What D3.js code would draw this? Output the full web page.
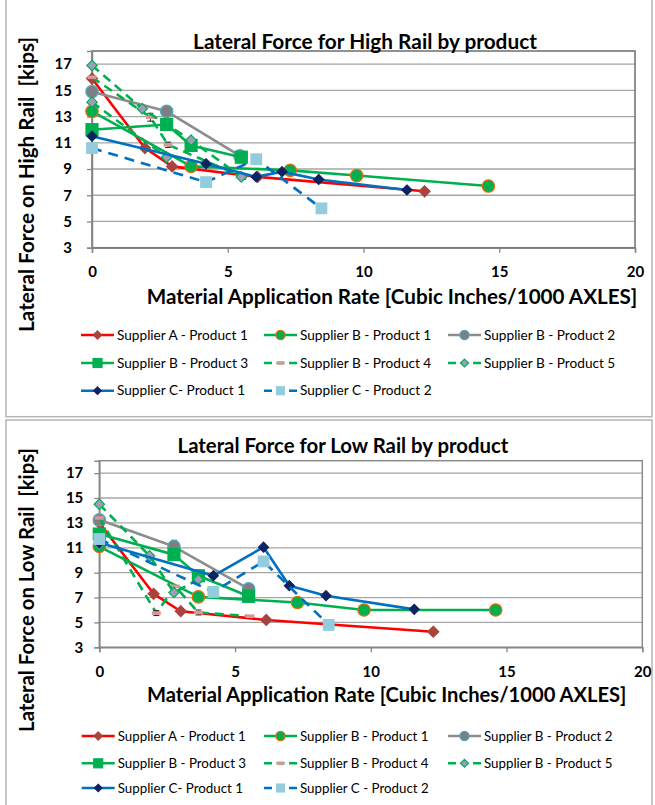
<!DOCTYPE html>
<html>
<head>
<meta charset="utf-8">
<script src="https://cdn.jsdelivr.net/npm/d3@7"></script>
<style>
  body { margin: 0; background: #fff; }
  svg { display: block; font-family: Lato, "Open Sans", sans-serif; }
</style>
</head>
<body>
<svg id="chart" width="655" height="805"></svg>
<script>
// ---- data ----
const seriesNames = [
  "Supplier A - Product 1", "Supplier B - Product 1", "Supplier B - Product 2",
  "Supplier B - Product 3", "Supplier B - Product 4", "Supplier B - Product 5",
  "Supplier C- Product 1", "Supplier C - Product 2"
];
const xTicks = [0, 5, 10, 15, 20];
const yTicks = [3, 5, 7, 9, 11, 13, 15, 17];

// high rail: [rate, force, error]; null breaks a line
const highA1 = [[0, 15.9], [1.95, 10.6], [2.95, 9.2], [6.1, 8.4], [12.25, 7.3]];
const highB1 = [[0, 13.4], [3.65, 9.2], [7.3, 8.9], [9.75, 8.5], [14.6, 7.7]];
const highB2 = [[0, 14.9], [2.75, 13.4], [5.45, 10.0]];
const highB3 = [[0, 12.0], [2.75, 12.4], [3.65, 10.8], [5.5, 9.9]];
const highB4 = [[0, 16.0], [2.15, 12.95, 0.3], [2.8, 10.85, 0.2], [5.55, 8.4, 0.2]];
const highB5 = [[0, 16.9], [1.85, 13.6], [3.65, 11.2], [5.5, 8.4], null, [0, 14.1], [2.75, 9.9]];
const highC1 = [[0, 11.5], [4.2, 9.4], [6.05, 8.4], [7.0, 8.8], [8.35, 8.2], [11.6, 7.4]];
const highC2 = [[0, 10.6], [4.2, 8.0], [6.05, 9.75], [8.45, 6.0]];

// low rail
const lowA1 = [[0, 13.0], [2.0, 7.3], [3.0, 5.9], [6.15, 5.2], [12.3, 4.25]];
const lowB1 = [[0, 11.1], [3.65, 7.05], [7.3, 6.6], [9.75, 6.0], [14.6, 6.0]];
const lowB2 = [[0, 13.25], [2.75, 11.1, 0.5], [5.5, 7.7]];
const lowB3 = [[0, 12.1], [2.75, 10.45], [3.65, 8.75], [5.5, 7.1]];
const lowB4 = [[0, 13.4], [2.1, 5.75, 0.2], [2.8, 7.9], [3.65, 5.8, 0.2], [5.55, 5.5]];
const lowB5 = [[0, 14.5], [1.85, 10.35], [2.75, 7.4], [3.65, 8.45], null, [0, 11.2]];
const lowC1 = [[0, 11.4], [4.2, 8.75], [6.05, 11.05], [7.0, 7.95], [8.35, 7.15], [11.6, 6.05]];
const lowC2 = [[0, 11.7], [4.2, 7.45], [6.05, 9.9], [8.45, 4.8]];

// ---- styles ----
const styles = [
  { line: "#ff0000", dash: null, shape: "diamond", fill: "#a9433d", stroke: "#a9433d", r: 5.5 },
  { line: "#00b050", dash: null, shape: "circle", fill: "#00b050", stroke: "#e46c0a", r: 6.2 },
  { line: "#8c8c8c", dash: null, shape: "circle", fill: "#7f7f7f", stroke: "#4bacc6", r: 6.2 },
  { line: "#00b050", dash: null, shape: "square", fill: "#00b050", stroke: "#00b050", r: 6 },
  { line: "#00b050", dash: "9,6", shape: "bar", fill: "#d99694", stroke: "#d99694", r: 4.5 },
  { line: "#00b050", dash: "9,6", shape: "diamond", fill: "#a19bbf", stroke: "#00b050", r: 5.2 },
  { line: "#0070c0", dash: null, shape: "diamond", fill: "#0c2461", stroke: "#0c2461", r: 5 },
  { line: "#0070c0", dash: "10,7", shape: "square", fill: "#93cddd", stroke: "#93cddd", r: 5.3 }
];

const svg = d3.select("#chart");

function fit(sel, target) {
  const w = sel.node().getComputedTextLength();
  sel.attr("font-size", parseFloat(sel.attr("font-size")) * target / w);
}

function marker(g, st, cx, cy, k) {
  const r = st.r * (k || 1);
  if (st.shape === "bar") {
    g.append("rect").attr("x", cx - r).attr("y", cy - 1.8).attr("width", 2 * r).attr("height", 3.6)
      .attr("fill", st.fill);
    return;
  }
  let el;
  if (st.shape === "circle") {
    el = g.append("circle").attr("cx", cx).attr("cy", cy).attr("r", r);
  } else if (st.shape === "square") {
    el = g.append("rect").attr("x", cx - r).attr("y", cy - r).attr("width", 2 * r).attr("height", 2 * r);
  } else {
    el = g.append("path").attr("d", `M${cx},${cy - r}L${cx + r},${cy}L${cx},${cy + r}L${cx - r},${cy}Z`);
  }
  el.attr("fill", st.fill).attr("stroke", st.stroke).attr("stroke-width", 1.2);
}

function drawChart(cfg) {
  const g = svg.append("g");
  const x = d3.scaleLinear().domain([0, 20]).range([cfg.x0, cfg.x1]);
  const y = d3.scaleLinear().domain([3, 18]).range([cfg.yb, cfg.yt]);

  // chart area frame
  g.append("rect").attr("x", cfg.frame[0]).attr("y", cfg.frame[1])
    .attr("width", cfg.frame[2]).attr("height", cfg.frame[3])
    .attr("fill", "none").attr("stroke", "#b4b4b4").attr("stroke-width", 1.5);

  // gridlines
  g.append("g").selectAll("line").data(yTicks).join("line")
    .attr("x1", cfg.x0).attr("x2", cfg.x1)
    .attr("y1", d => y(d)).attr("y2", d => y(d))
    .attr("stroke", "#a6a6a6").attr("stroke-width", 1.3);

  // plot border
  g.append("rect").attr("x", cfg.x0).attr("y", cfg.yt)
    .attr("width", cfg.x1 - cfg.x0).attr("height", cfg.yb - cfg.yt)
    .attr("fill", "none").attr("stroke", cfg.border).attr("stroke-width", 1.5);

  const xAxis = d3.axisBottom(x).tickValues(xTicks).tickSize(5).tickPadding(14);
  const yAxis = d3.axisLeft(y).tickValues(yTicks).tickSize(5).tickPadding(cfg.yPad);

  const gx = g.append("g").attr("transform", `translate(0,${cfg.yb})`).call(xAxis);
  const gy = g.append("g").attr("transform", `translate(${cfg.x0},0)`).call(yAxis);
  [gx, gy].forEach(a => {
    a.select(".domain").attr("stroke", "#868686").attr("stroke-width", 1.5);
    a.selectAll(".tick line").attr("stroke", "#868686").attr("stroke-width", 1.3);
    a.selectAll(".tick text").attr("font-size", 15).attr("font-weight", "bold")
      .attr("fill", "#000").attr("font-family", "Lato, sans-serif");
  });

  // series
  const line = d3.line().defined(d => d).x(d => x(d[0])).y(d => y(d[1]));
  cfg.data.forEach((pts, i) => {
    const st = styles[i];
    const sg = g.append("g");
    sg.append("path").datum(pts).attr("d", line)
      .attr("fill", "none").attr("stroke", st.line).attr("stroke-width", 2.6)
      .attr("stroke-dasharray", st.dash).attr("stroke-linejoin", "round");
    pts.filter(d => d && d[2]).forEach(d => {
      const eg = sg.append("g").attr("stroke", "#222").attr("stroke-width", 1);
      eg.append("line").attr("x1", x(d[0])).attr("x2", x(d[0]))
        .attr("y1", y(d[1] - d[2])).attr("y2", y(d[1] + d[2]));
      [d[1] - d[2], d[1] + d[2]].forEach(v => eg.append("line")
        .attr("x1", x(d[0]) - 3).attr("x2", x(d[0]) + 3).attr("y1", y(v)).attr("y2", y(v)));
    });
    pts.filter(d => d).forEach(d => marker(sg, st, x(d[0]), y(d[1])));
  });

  // titles
  const t = g.append("text").attr("x", cfg.title[0]).attr("y", cfg.title[1]).attr("dy", "0.35em")
    .attr("text-anchor", "middle").attr("font-size", 17).attr("font-weight", "bold")
    .text(cfg.titleText);
  fit(t, cfg.title[2]);

  const xt = g.append("text").attr("x", cfg.xTitle[0]).attr("y", cfg.xTitle[1]).attr("dy", "0.35em")
    .attr("text-anchor", "middle").attr("font-size", 19).attr("font-weight", "bold")
    .text("Material Application Rate [Cubic Inches/1000 AXLES]");
  fit(xt, cfg.xTitle[2]);

  const yt = g.append("text")
    .attr("transform", `translate(${cfg.yTitle[0]},${cfg.yTitle[1]}) rotate(-90)`)
    .attr("dy", "0.35em").attr("text-anchor", "middle").attr("font-size", 18)
    .attr("font-weight", "bold").attr("xml:space", "preserve").style("white-space", "pre")
    .text(cfg.yTitleText);
  fit(yt, cfg.yTitle[2]);

  // legend
  const lg = g.append("g");
  let legendSize = 13;
  seriesNames.forEach((name, i) => {
    const st = styles[i];
    const lx = cfg.legCols[i % 3], ly = cfg.legRows[Math.floor(i / 3)];
    lg.append("line").attr("x1", lx).attr("x2", lx + 33).attr("y1", ly).attr("y2", ly)
      .attr("stroke", st.line).attr("stroke-width", 2.6)
      .attr("stroke-dasharray", st.dash ? "8,4.5" : null);
    marker(lg, st, lx + 16.5, ly, 0.75);
    const tx = lg.append("text").attr("x", lx + 36).attr("y", ly).attr("dy", "0.35em")
      .attr("font-size", legendSize).attr("fill", "#000").text(name);
    if (i === 0) { fit(tx, cfg.legWidth); legendSize = +tx.attr("font-size"); }
  });
}

drawChart({
  x0: 92, x1: 635, yt: 51, yb: 247.7, yPad: 15, border: "#6e6e6e",
  frame: [6, -4, 646, 420.7],
  title: [365, 41.7, 344], titleText: "Lateral Force for High Rail by product",
  xTitle: [392, 297, 491],
  yTitle: [27, 184.5, 295], yTitleText: "Lateral Force on High Rail  [kips]",
  legCols: [81, 264, 448], legRows: [335, 363, 390.7], legWidth: 131,
  data: [highA1, highB1, highB2, highB3, highB4, highB5, highC1, highC2]
});

drawChart({
  x0: 99.3, x1: 642.3, yt: 460.7, yb: 647.3, yPad: 11, border: "#8c8c8c",
  frame: [6, 420, 646, 400],
  title: [343, 446, 331], titleText: "Lateral Force for Low Rail by product",
  xTitle: [386.7, 695, 480],
  yTitle: [27, 590, 284], yTitleText: "Lateral Force on Low Rail  [kips]",
  legCols: [81.7, 264, 448], legRows: [736, 763.3, 788], legWidth: 128,
  data: [lowA1, lowB1, lowB2, lowB3, lowB4, lowB5, lowC1, lowC2]
});
</script>
</body>
</html>
